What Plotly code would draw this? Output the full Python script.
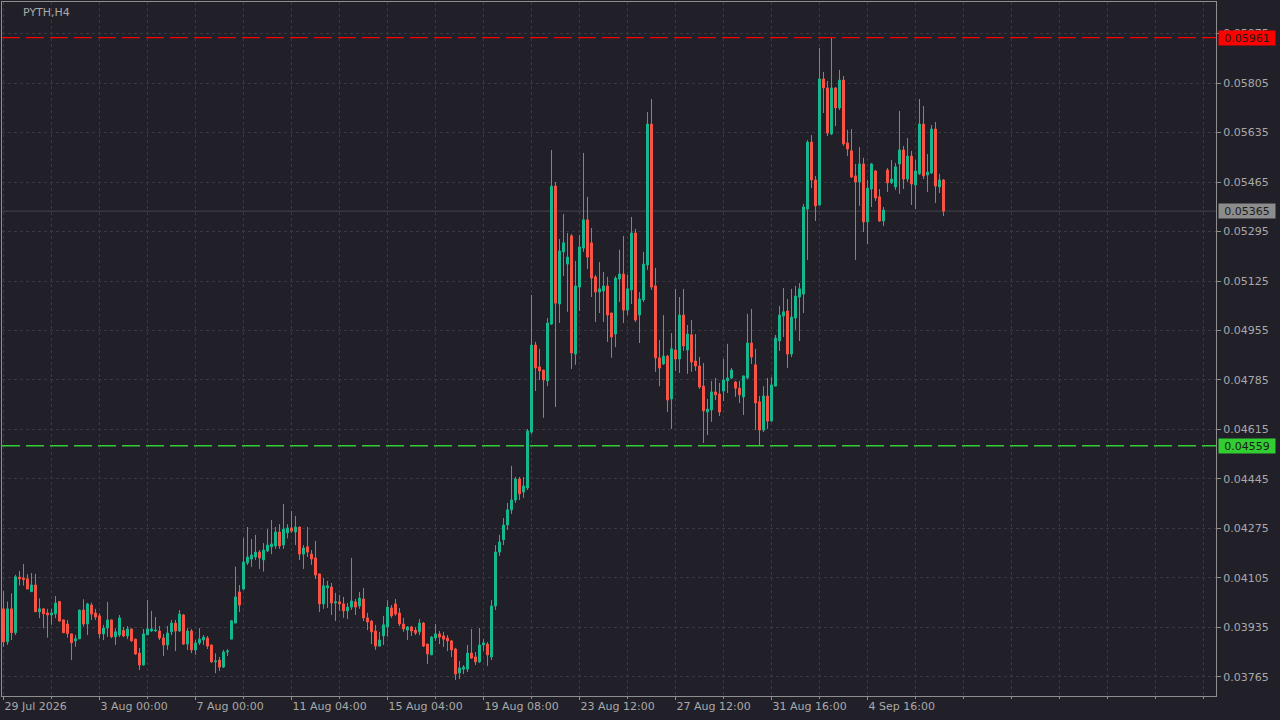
import plotly.graph_objects as go

# ---- data (PYTH, H4 candles) ----
open_ = [
    0.03999, 0.03886, 0.03999, 0.03917, 0.04108, 0.04105, 0.04102, 0.04058, 0.04081, 0.03989,
    0.03999, 0.03985, 0.03978, 0.03982, 0.04024, 0.03961, 0.03947, 0.03913, 0.03889, 0.03896,
    0.03995, 0.03947, 0.04012, 0.03985, 0.03975, 0.03913, 0.03933, 0.03961, 0.03903, 0.03909,
    0.03925, 0.03906, 0.03930, 0.03895, 0.03847, 0.03806, 0.03910, 0.03923, 0.03923, 0.03923,
    0.03899, 0.03875, 0.03920, 0.03950, 0.03923, 0.03978, 0.03878, 0.03923, 0.03858, 0.03882,
    0.03892, 0.03899, 0.03875, 0.03817, 0.03823, 0.03799, 0.03851, 0.03895, 0.03950, 0.04057,
    0.04067, 0.04157, 0.04170, 0.04177, 0.04194, 0.04167, 0.04198, 0.04212, 0.04215, 0.04263,
    0.04218, 0.04260, 0.04277, 0.04263, 0.04280, 0.04187, 0.04212, 0.04187, 0.04174, 0.04119,
    0.04016, 0.04071, 0.04074, 0.04019, 0.04023, 0.04016, 0.03992, 0.04005, 0.04023, 0.04009,
    0.04033, 0.03968, 0.03957, 0.03923, 0.03871, 0.03906, 0.03937, 0.04002, 0.04016, 0.03985,
    0.03947, 0.03926, 0.03937, 0.03926, 0.03920, 0.03950, 0.03878, 0.03841, 0.03899, 0.03913,
    0.03906, 0.03899, 0.03889, 0.03861, 0.03779, 0.03792, 0.03792, 0.03847, 0.03834, 0.03817,
    0.03875, 0.03878, 0.03834, 0.04009, 0.04194, 0.04236, 0.04287, 0.04339, 0.04373, 0.04445,
    0.04400, 0.04414, 0.04606, 0.04905, 0.04830, 0.04819, 0.04782, 0.04977, 0.05451, 0.05046,
    0.05225, 0.05183, 0.05280, 0.04874, 0.05104, 0.05238, 0.05335, 0.05256, 0.05139, 0.05087,
    0.05091, 0.05108, 0.05015, 0.04943, 0.05132, 0.05149, 0.05025, 0.05094, 0.05290, 0.05008,
    0.05060, 0.05180, 0.05664, 0.05108, 0.04861, 0.04840, 0.04867, 0.04720, 0.04888, 0.04857,
    0.05008, 0.04888, 0.04940, 0.04850, 0.04833, 0.04764, 0.04675, 0.04682, 0.04744, 0.04737,
    0.04747, 0.04782, 0.04792, 0.04778, 0.04757, 0.04727, 0.04792, 0.04912, 0.04837, 0.04710,
    0.04613, 0.04730, 0.04644, 0.04764, 0.04919, 0.05005, 0.05022, 0.04874, 0.04998, 0.05070,
    0.05080, 0.05372, 0.05602, 0.05472, 0.05386, 0.05819, 0.05788, 0.05630, 0.05788, 0.05719,
    0.05815, 0.05599, 0.05572, 0.05486, 0.05465, 0.05527, 0.05328, 0.05441, 0.05503, 0.05414,
    0.05331, 0.05506, 0.05462, 0.05448, 0.05527, 0.05575, 0.05475, 0.05554, 0.05455, 0.05493,
    0.05664, 0.05489, 0.05496, 0.05647, 0.05448, 0.05472,
]
high = [
    0.04060, 0.04024, 0.04052, 0.04116, 0.04129, 0.04153, 0.04118, 0.04122, 0.04119, 0.04035,
    0.04001, 0.03999, 0.03999, 0.04043, 0.04026, 0.03962, 0.03961, 0.03914, 0.03909, 0.03996,
    0.04032, 0.04020, 0.04020, 0.03999, 0.03984, 0.03944, 0.04023, 0.03963, 0.03932, 0.03978,
    0.03937, 0.03940, 0.03933, 0.03896, 0.03865, 0.03930, 0.04029, 0.03992, 0.03971, 0.03940,
    0.03913, 0.03940, 0.03961, 0.03961, 0.03995, 0.03981, 0.03933, 0.03930, 0.03892, 0.03933,
    0.03909, 0.03906, 0.03876, 0.03846, 0.03834, 0.03858, 0.03861, 0.03961, 0.04144, 0.04081,
    0.04243, 0.04280, 0.04239, 0.04253, 0.04201, 0.04225, 0.04273, 0.04304, 0.04280, 0.04290,
    0.04359, 0.04290, 0.04335, 0.04318, 0.04281, 0.04218, 0.04280, 0.04201, 0.04232, 0.04120,
    0.04105, 0.04095, 0.04088, 0.04054, 0.04047, 0.04040, 0.04019, 0.04174, 0.04033, 0.04057,
    0.04071, 0.03985, 0.03961, 0.03944, 0.03920, 0.03975, 0.04029, 0.04012, 0.04033, 0.04002,
    0.03968, 0.03940, 0.03940, 0.03937, 0.03964, 0.03954, 0.03879, 0.03906, 0.03947, 0.03923,
    0.03920, 0.03909, 0.03892, 0.03865, 0.03820, 0.03806, 0.03875, 0.03930, 0.03851, 0.03933,
    0.03895, 0.03885, 0.04029, 0.04218, 0.04253, 0.04311, 0.04363, 0.04490, 0.04452, 0.04452,
    0.04452, 0.04617, 0.05077, 0.04916, 0.04892, 0.04820, 0.04998, 0.05575, 0.05465, 0.05269,
    0.05355, 0.05290, 0.05286, 0.05194, 0.05283, 0.05565, 0.05414, 0.05307, 0.05146, 0.05190,
    0.05156, 0.05139, 0.05016, 0.05142, 0.05232, 0.05280, 0.05146, 0.05345, 0.05304, 0.05087,
    0.05225, 0.05705, 0.05750, 0.05170, 0.04922, 0.05008, 0.04871, 0.04946, 0.05098, 0.05070,
    0.05098, 0.04974, 0.04991, 0.04943, 0.04864, 0.04843, 0.04720, 0.04782, 0.04792, 0.04775,
    0.04857, 0.04909, 0.04826, 0.04782, 0.04782, 0.04800, 0.05012, 0.05029, 0.04892, 0.04730,
    0.04764, 0.04792, 0.04795, 0.04940, 0.05039, 0.05101, 0.05063, 0.05098, 0.05108, 0.05118,
    0.05390, 0.05609, 0.05626, 0.05486, 0.05925, 0.05843, 0.05812, 0.05961, 0.05791, 0.05850,
    0.05829, 0.05644, 0.05647, 0.05527, 0.05585, 0.05548, 0.05472, 0.05530, 0.05506, 0.05441,
    0.05379, 0.05513, 0.05541, 0.05530, 0.05709, 0.05589, 0.05616, 0.05572, 0.05541, 0.05750,
    0.05726, 0.05561, 0.05661, 0.05671, 0.05493, 0.05475,
]
low = [
    0.03869, 0.03875, 0.03892, 0.03909, 0.04079, 0.04079, 0.04067, 0.04058, 0.03989, 0.03967,
    0.03932, 0.03900, 0.03944, 0.03967, 0.03955, 0.03916, 0.03900, 0.03823, 0.03869, 0.03895,
    0.03938, 0.03909, 0.03961, 0.03961, 0.03898, 0.03892, 0.03903, 0.03898, 0.03875, 0.03902,
    0.03902, 0.03895, 0.03886, 0.03841, 0.03789, 0.03805, 0.03909, 0.03920, 0.03920, 0.03892,
    0.03837, 0.03858, 0.03909, 0.03854, 0.03920, 0.03875, 0.03858, 0.03847, 0.03841, 0.03875,
    0.03875, 0.03861, 0.03813, 0.03778, 0.03786, 0.03796, 0.03837, 0.03895, 0.03950, 0.03988,
    0.04064, 0.04150, 0.04143, 0.04167, 0.04136, 0.04127, 0.04194, 0.04187, 0.04205, 0.04205,
    0.04205, 0.04241, 0.04260, 0.04218, 0.04167, 0.04136, 0.04177, 0.04150, 0.04102, 0.03988,
    0.03999, 0.04002, 0.03978, 0.03957, 0.03992, 0.03968, 0.03964, 0.03995, 0.03978, 0.03999,
    0.03957, 0.03926, 0.03878, 0.03858, 0.03870, 0.03875, 0.03903, 0.03968, 0.03975, 0.03940,
    0.03920, 0.03892, 0.03906, 0.03909, 0.03909, 0.03868, 0.03810, 0.03840, 0.03889, 0.03878,
    0.03868, 0.03854, 0.03834, 0.03755, 0.03758, 0.03775, 0.03782, 0.03827, 0.03806, 0.03813,
    0.03854, 0.03803, 0.03823, 0.03995, 0.04181, 0.04218, 0.04270, 0.04325, 0.04363, 0.04373,
    0.04380, 0.04407, 0.04600, 0.04747, 0.04785, 0.04655, 0.04764, 0.04974, 0.04692, 0.04981,
    0.05142, 0.05019, 0.04823, 0.04837, 0.05022, 0.05225, 0.05166, 0.05070, 0.04984, 0.05015,
    0.04984, 0.04916, 0.04861, 0.04898, 0.05053, 0.04981, 0.05008, 0.05046, 0.04984, 0.04912,
    0.05053, 0.05163, 0.05094, 0.04813, 0.04764, 0.04837, 0.04675, 0.04617, 0.04816, 0.04809,
    0.04885, 0.04806, 0.04813, 0.04816, 0.04754, 0.04569, 0.04596, 0.04641, 0.04716, 0.04661,
    0.04713, 0.04740, 0.04788, 0.04727, 0.04706, 0.04665, 0.04788, 0.04840, 0.04613, 0.04559,
    0.04606, 0.04617, 0.04643, 0.04763, 0.04885, 0.04933, 0.04826, 0.04864, 0.04957, 0.04919,
    0.05015, 0.05197, 0.05444, 0.05331, 0.05385, 0.05702, 0.05623, 0.05626, 0.05657, 0.05712,
    0.05589, 0.05554, 0.05479, 0.05197, 0.05383, 0.05293, 0.05252, 0.05379, 0.05400, 0.05328,
    0.05314, 0.05431, 0.05458, 0.05438, 0.05424, 0.05441, 0.05465, 0.05386, 0.05372, 0.05489,
    0.05475, 0.05431, 0.05493, 0.05393, 0.05427, 0.05348,
]
close = [
    0.03886, 0.03999, 0.03917, 0.04109, 0.04102, 0.04100, 0.04067, 0.04081, 0.03989, 0.03999,
    0.03982, 0.03978, 0.03985, 0.04019, 0.03957, 0.03917, 0.03914, 0.03883, 0.03896, 0.03995,
    0.03947, 0.04016, 0.03981, 0.03971, 0.03913, 0.03933, 0.03961, 0.03903, 0.03920, 0.03968,
    0.03906, 0.03930, 0.03889, 0.03844, 0.03806, 0.03913, 0.03930, 0.03930, 0.03926, 0.03899,
    0.03875, 0.03916, 0.03950, 0.03923, 0.03981, 0.03878, 0.03923, 0.03858, 0.03882, 0.03895,
    0.03902, 0.03871, 0.03817, 0.03820, 0.03799, 0.03851, 0.03854, 0.03958, 0.04040, 0.04012,
    0.04160, 0.04177, 0.04184, 0.04194, 0.04174, 0.04201, 0.04218, 0.04222, 0.04263, 0.04215,
    0.04273, 0.04277, 0.04266, 0.04280, 0.04187, 0.04208, 0.04194, 0.04170, 0.04115, 0.04016,
    0.04078, 0.04078, 0.04019, 0.04023, 0.04016, 0.03992, 0.04005, 0.04026, 0.04005, 0.04036,
    0.03968, 0.03954, 0.03920, 0.03871, 0.03892, 0.03944, 0.04005, 0.03975, 0.03981, 0.03947,
    0.03930, 0.03937, 0.03923, 0.03916, 0.03950, 0.03871, 0.03844, 0.03902, 0.03913, 0.03902,
    0.03895, 0.03889, 0.03858, 0.03775, 0.03796, 0.03799, 0.03847, 0.03830, 0.03817, 0.03875,
    0.03882, 0.03841, 0.04009, 0.04194, 0.04229, 0.04287, 0.04339, 0.04373, 0.04445, 0.04394,
    0.04421, 0.04610, 0.04905, 0.04826, 0.04816, 0.04785, 0.04981, 0.05451, 0.05049, 0.05228,
    0.05256, 0.05207, 0.04878, 0.05108, 0.05242, 0.05335, 0.05207, 0.05135, 0.05087, 0.05098,
    0.05108, 0.05008, 0.04933, 0.05135, 0.05149, 0.05025, 0.05098, 0.05290, 0.04991, 0.05063,
    0.05183, 0.05664, 0.05104, 0.04861, 0.04826, 0.04867, 0.04716, 0.04892, 0.04857, 0.05008,
    0.04902, 0.04943, 0.04847, 0.04833, 0.04761, 0.04679, 0.04685, 0.04744, 0.04734, 0.04675,
    0.04785, 0.04792, 0.04819, 0.04757, 0.04734, 0.04799, 0.04912, 0.04864, 0.04706, 0.04613,
    0.04730, 0.04644, 0.04768, 0.04929, 0.05008, 0.05019, 0.04874, 0.05001, 0.05073, 0.05098,
    0.05379, 0.05602, 0.05472, 0.05383, 0.05819, 0.05788, 0.05633, 0.05788, 0.05719, 0.05815,
    0.05596, 0.05578, 0.05482, 0.05465, 0.05527, 0.05328, 0.05444, 0.05527, 0.05410, 0.05331,
    0.05369, 0.05462, 0.05475, 0.05517, 0.05575, 0.05475, 0.05554, 0.05458, 0.05503, 0.05664,
    0.05486, 0.05499, 0.05647, 0.05451, 0.05472, 0.05365,
]

tick_bars = [0, 24, 48, 72, 96, 120, 144, 168, 192, 216]
tick_labels = ["29 Jul 2026", "3 Aug 00:00", "7 Aug 00:00", "11 Aug 04:00", "15 Aug 04:00",
               "19 Aug 08:00", "23 Aug 12:00", "27 Aug 12:00", "31 Aug 16:00", "4 Sep 16:00"]
price_ticks = [0.03765, 0.03935, 0.04105, 0.04275, 0.04445, 0.04615, 0.04785,
               0.04955, 0.05125, 0.05295, 0.05465, 0.05635, 0.05805, 0.05975]
high_level = 0.05961
low_level = 0.04559
last_price = 0.05365
symbol_label = "PYTH,H4"

# ---- styling ----
BG = "#211f28"
GRID = "#3a3843"
FRAME = "#8e8e8e"
TXT = "#a9a9a9"
UP = "#17b890"
DN = "#fb5447"
FONT = "DejaVu Sans"

bars = list(range(len(open_)))

fig = go.Figure()
fig.add_trace(go.Candlestick(
    x=bars, open=open_, high=high, low=low, close=close,
    increasing=dict(line=dict(color=UP, width=1), fillcolor=UP),
    decreasing=dict(line=dict(color=DN, width=1), fillcolor=DN),
    whiskerwidth=0, hoverinfo="skip", showlegend=False,
))

shapes = [
    dict(type="line", xref="paper", x0=0, x1=1, yref="y", y0=last_price, y1=last_price,
         line=dict(color="#47454f", width=1), layer="below"),
    dict(type="line", xref="paper", x0=0, x1=1, yref="y", y0=high_level, y1=high_level,
         line=dict(color="#ff0000", width=1.4, dash="18px,6px")),
    dict(type="line", xref="paper", x0=0, x1=1, yref="y", y0=low_level, y1=low_level,
         line=dict(color="#32cd32", width=1.4, dash="18px,6px")),
]

def price_box(value, bg):
    return dict(xref="paper", x=1, xanchor="left", xshift=2, yref="y", y=value,
                yanchor="middle", text=f"{value:.5f}", showarrow=False,
                bgcolor=bg, width=54, height=12, borderpad=1, align="center",
                font=dict(family=FONT, size=11, color="#1c1c1c"))

annotations = [
    price_box(high_level, "#ff0000"),
    price_box(low_level, "#32cd32"),
    price_box(last_price, "#8c8c8c"),
    dict(xref="paper", x=0.0157, xanchor="left", yref="paper", y=0.985, yanchor="middle",
         text=symbol_label, showarrow=False, font=dict(family=FONT, size=11, color=TXT)),
]

fig.update_layout(
    width=1280, height=720,
    margin=dict(l=2, r=64, t=2, b=24),
    paper_bgcolor=BG, plot_bgcolor=BG,
    shapes=shapes, annotations=annotations,
    showlegend=False,
    xaxis=dict(
        range=[-0.375, 303.125], tickmode="array", tickvals=tick_bars, ticktext=tick_labels,
        ticks="outside", ticklen=3, tickcolor=FRAME, ticklabelposition="outside right",
        tickfont=dict(family=FONT, size=11, color=TXT),
        showline=True, linecolor=FRAME, linewidth=1, mirror=True,
        showgrid=True, gridcolor=GRID, griddash="3px,3px", gridwidth=1,
        minor=dict(tickmode="linear", tick0=0, dtick=12, ticks="outside", ticklen=2,
                   tickcolor=FRAME, showgrid=True, gridcolor=GRID, griddash="3px,3px"),
        rangeslider=dict(visible=False), zeroline=False, fixedrange=True,
    ),
    yaxis=dict(
        side="right", range=[0.036997, 0.060832], tickmode="array", tickvals=price_ticks,
        tickformat=".5f", ticks="outside", ticklen=4, tickcolor=FRAME,
        tickfont=dict(family=FONT, size=11, color=TXT),
        showline=True, linecolor=FRAME, linewidth=1, mirror=True,
        showgrid=True, gridcolor=GRID, griddash="3px,3px", gridwidth=1,
        zeroline=False, fixedrange=True,
    ),
)

fig.write_html(
    "out.html",
    config={"displayModeBar": False},
    post_script="document.body.style.margin='0px';document.body.style.background='%s';" % BG,
)
